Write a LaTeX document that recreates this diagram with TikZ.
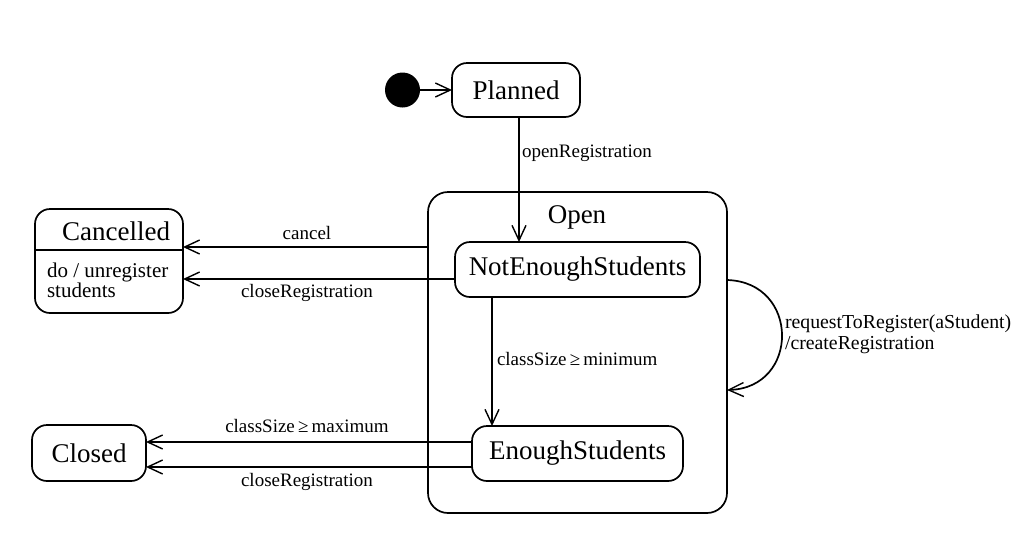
\documentclass[tikz,border=0pt]{standalone}
\usepackage{fontspec}
\setmainfont{Liberation Serif}
\usetikzlibrary{arrows.meta}
\begin{document}
\begin{tikzpicture}[x=1pt,y=-1pt,
  every node/.style={inner sep=0pt,outer sep=0pt},
  bigtext/.style={font=\fontsize{27}{30}\selectfont},
  statebox/.style={draw,line width=1.7pt,rounded corners=15pt,bigtext},
  lbl/.style={font=\fontsize{19}{21}\selectfont},
  trans/.style={line width=1.7pt,-{Straight Barb[length=15pt,width=14pt,line width=1.4pt]}}]
\useasboundingbox (0,0) rectangle (1019,536);
% initial
\node[fill=black,circle,minimum size=35pt] (init) at (402.5,90) {};
\node[statebox,minimum width=128pt,minimum height=54pt] (planned) at (516,90) {Planned};
% composite
\node[draw,line width=1.7pt,rounded corners=20pt,minimum width=299pt,minimum height=321pt] (open) at (577.5,352.5) {};
\node[bigtext] (openlbl) at (577,217) {Open};
\node[statebox,minimum width=245pt,minimum height=55pt] (nes) at (577.5,269.5) {NotEnoughStudents};
\node[statebox,minimum width=211pt,minimum height=55pt] (es) at (577.5,453.5) {EnoughStudents};
\node[statebox,minimum width=114pt,minimum height=56pt] (closed) at (89,453) {Closed};
% cancelled
\node[draw,line width=1.7pt,rounded corners=15pt,minimum width=148pt,minimum height=104pt] (canc) at (109,261) {};
\draw[line width=1.7pt] (canc.west |- 0,250) -- (canc.east |- 0,250);
\node[bigtext] (canctitle) at (116,231) {Cancelled};
\node[font=\fontsize{21}{20}\selectfont,anchor=west,align=left] (cancdo) at (47,280) {do / unregister\\students};
% transitions
\draw[trans] (init) -- (planned);
\draw[trans] (planned.south -| 519,0) -- (nes.north -| 519,0);
\node[lbl,anchor=west] (l1) at (522,153) {openRegistration};
\draw[trans] (open.west |- 0,247) -- (canc.east |- 0,247);
\node[lbl] (l2) at (307,233) {cancel};
\draw[trans] (nes.west |- 0,279) -- (canc.east |- 0,279);
\node[lbl] (l3) at (307,293) {closeRegistration};
\draw[trans] (nes.south -| 492,0) -- (es.north -| 492,0);
\node[lbl,anchor=west] (l4) at (497,359) {classSize\,≥\,minimum};
\draw[trans] (es.west |- 0,442) -- (closed.east |- 0,442);
\node[lbl] (l5) at (307,426) {classSize\,≥\,maximum};
\draw[trans] (es.west |- 0,467) -- (closed.east |- 0,467);
\node[lbl] (l6) at (307,482) {closeRegistration};
\draw[trans] (open.east |- 0,280) .. controls (800,282) and (800,388) .. (open.east |- 0,390);
\node[font=\fontsize{19.8}{21}\selectfont,anchor=west,align=left] (l7) at (785,334) {requestToRegister(aStudent)\\/createRegistration};
\end{tikzpicture}
\end{document}
